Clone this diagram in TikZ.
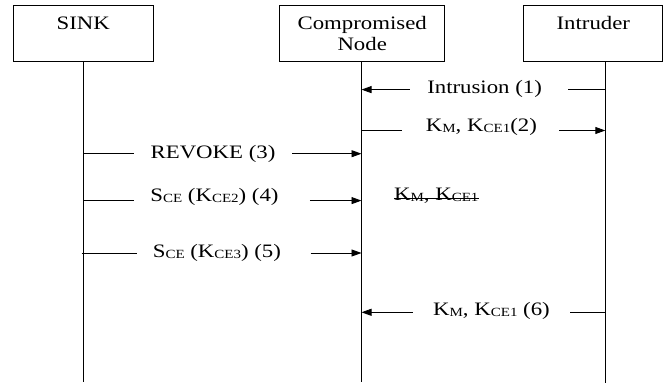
\documentclass[tikz,border=0pt]{standalone}
\usepackage{fontspec}
\setmainfont{Liberation Serif}[FakeStretch=1.2]
\usetikzlibrary{arrows.meta}
\newcommand{\sbs}[1]{\raisebox{-1pt}{\fontsize{12.5}{14}\selectfont #1}}
\tikzstyle{actor} = [draw=black, line width=1pt, inner xsep=0pt, inner ysep=0pt, text height=24.6pt, text depth=31.7pt, anchor=north]
\tikzstyle{lifeline} = [line width=0.9pt]
\tikzstyle{msg} = [inner sep=0pt, anchor=base]
\tikzstyle{msgline} = [line width=0.9pt]
\tikzstyle{msgarrow} = [msgline, -{Triangle[length=10pt,width=7pt]}]

\begin{document}
\begin{tikzpicture}[x=1pt, y=-1pt, every node/.style={font=\fontsize{19}{21}\selectfont}]
  \useasboundingbox (0,0) rectangle (669,385);
  \node[actor, minimum width=140pt](sink) at (83.3,4.7){SINK};
  \node[actor, minimum width=164.5pt](cn) at (362.2,4.7){\begin{tabular}[t]{@{}c@{}}Compromised\\Node\end{tabular}};
  \node[actor, minimum width=138.7pt](intruder) at (593.3,4.7){Intruder};
  \coordinate (sinkend) at (83.3,382);
  \coordinate (cnend) at (361.5,382);
  \coordinate (intend) at (605.3,383);
  \draw[lifeline](sink.south -| sinkend)--(sinkend);
  \draw[lifeline](cn.south -| cnend)--(cnend);
  \draw[lifeline](intruder.south -| intend)--(intend);
  % messages
  \node[msg](m1) at (484.6,93.3){Intrusion (1)};
  \node[msg](m2) at (481.4,131.7){K\sbs{M}, K\sbs{CE1}(2)};
  \node[msg](m3) at (213,158.6){REVOKE (3)};
  \node[msg](m4) at (214.5,201.3){S\sbs{CE} (K\sbs{CE2}) (4)};
  \node[msg](m5) at (216.9,257){S\sbs{CE} (K\sbs{CE3}) (5)};
  \node[msg](m6) at (491.5,315.7){K\sbs{M}, K\sbs{CE1} (6)};
  \node[msg](kold) at (436.3,200.5){K\sbs{M}, K\sbs{CE1}};
  \coordinate (y1) at (0,89.6);
  \coordinate (y2) at (0,130.5);
  \coordinate (y3) at (0,153.7);
  \coordinate (y4) at (0,200.6);
  \coordinate (y5) at (0,253);
  \coordinate (y6) at (0,312.3);
  \draw[msgline](intend |- y1)--([xshift=25.6pt]m1.east |- y1);
  \draw[msgarrow]([xshift=-17.1pt]m1.west |- y1)--(cnend |- y1);
  \draw[msgline](cnend |- y2)--([xshift=-23.5pt]m2.west |- y2);
  \draw[msgarrow]([xshift=22.2pt]m2.east |- y2)--(intend |- y2);
  \draw[msgline](sinkend |- y3)--([xshift=-16.6pt]m3.west |- y3);
  \draw[msgarrow]([xshift=16.7pt]m3.east |- y3)--(cnend |- y3);
  \draw[msgline](sinkend |- y4)--([xshift=-16.6pt]m4.west |- y4);
  \draw[msgarrow]([xshift=31.2pt]m4.east |- y4)--(cnend |- y4);
  \draw[msgline]([xshift=-1.7pt]sinkend |- y5)--([xshift=-15.8pt]m5.west |- y5);
  \draw[msgarrow]([xshift=29.5pt]m5.east |- y5)--(cnend |- y5);
  \draw[msgline](intend |- y6)--([xshift=20.1pt]m6.east |- y6);
  \draw[msgarrow]([xshift=-20.1pt]m6.west |- y6)--(cnend |- y6);
  \draw[line width=0.9pt]([yshift=2pt]kold.base west)--([yshift=2pt]kold.base east);
\end{tikzpicture}
\end{document}
